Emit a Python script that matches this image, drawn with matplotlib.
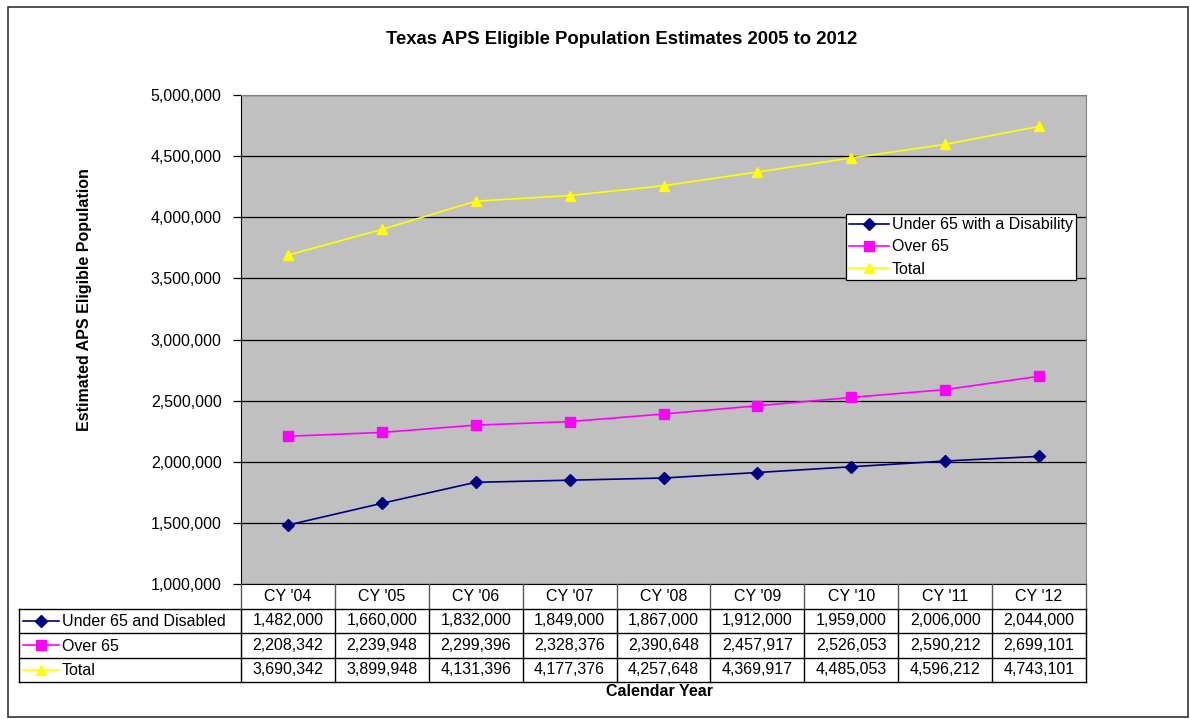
import matplotlib
matplotlib.use("Agg")
import matplotlib.pyplot as plt
from matplotlib.patches import Rectangle
from matplotlib.ticker import FuncFormatter

plt.rcParams['font.family'] = ['Liberation Sans', 'DejaVu Sans']

years = ["CY '04", "CY '05", "CY '06", "CY '07", "CY '08", "CY '09", "CY '10", "CY '11", "CY '12"]
under65 = [1482000, 1660000, 1832000, 1849000, 1867000, 1912000, 1959000, 2006000, 2044000]
over65 = [2208342, 2239948, 2299396, 2328376, 2390648, 2457917, 2526053, 2590212, 2699101]
total = [3690342, 3899948, 4131396, 4177376, 4257648, 4369917, 4485053, 4596212, 4743101]

legend_names = ["Under 65 with a Disability", "Over 65", "Total"]
table_names = ["Under 65 and Disabled", "Over 65", "Total"]
colors = ["#000080", "#FF00FF", "#FFFF00"]
markers = ["D", "s", "^"]
msizes = [6, 7, 7]
series = [under65, over65, total]

FS = 11.5
W, H = 1190, 719
fig = plt.figure(figsize=(W / 100, H / 100), dpi=100)

# outer border
fig.patches.append(Rectangle((7.5 / W, 1 - 717 / H), 1180 / W, 710.5 / H,
                             transform=fig.transFigure, fill=False,
                             edgecolor="#333333", linewidth=1.2))

px_l, px_r, px_t, px_b = 241, 1086, 95, 584
ax = fig.add_axes([px_l / W, 1 - px_b / H, (px_r - px_l) / W, (px_b - px_t) / H])
ax.set_facecolor("#C0C0C0")
x = list(range(len(years)))
for name, vals, c, m, ms in zip(legend_names, series, colors, markers, msizes):
    ax.plot(x, vals, color=c, marker=m, markersize=ms, linewidth=1.2, label=name)

ax.set_xlim(-0.5, len(years) - 0.5)
ax.set_ylim(1000000, 5000000)
ax.set_yticks(range(1000000, 5000001, 500000))
ax.yaxis.set_major_formatter(FuncFormatter(lambda v, p: f"{int(v):,}"))
ax.set_xticks([])
ax.grid(axis="y", color="black", linewidth=0.9)
ax.set_axisbelow(True)
ax.tick_params(axis="y", direction="out", length=6, width=0.9, labelsize=FS, pad=8)
for s in ["top", "right"]:
    ax.spines[s].set_color("#808080")
ax.spines["left"].set_color("black")
ax.spines["bottom"].set_color("black")

leg = ax.legend(loc="upper left", bbox_to_anchor=((846 - px_l) / (px_r - px_l), 1 - (214 - px_t) / (px_b - px_t)),
                fontsize=FS, frameon=True, fancybox=False, edgecolor="black",
                borderpad=0.2, labelspacing=0.45, handlelength=2.5, handletextpad=0.15,
                borderaxespad=0)
leg.get_frame().set_linewidth(0.9)
leg.get_frame().set_alpha(1)

# data table below the axes
col_w = (px_r - px_l) / len(years)
tl = 19
tax = fig.add_axes([tl / W, 1 - 682 / H, (px_r - tl) / W, (682 - px_b) / H])
left_x = -0.5 - (px_l - tl) / col_w
tax.set_xlim(left_x, len(years) - 0.5)
tax.set_ylim(0, 4)
tax.axis("off")

# grid lines of table
for yy in [0, 1, 2, 3]:
    tax.plot([left_x, len(years) - 0.5], [yy, yy], color="black", lw=1.0, clip_on=False)
tax.plot([left_x, left_x], [0, 3], color="black", lw=1.0, clip_on=False)
for i in range(len(years) + 1):
    xb = i - 0.5
    tax.plot([xb, xb], [3, 4], color="#555555", lw=1.0, clip_on=False)
    tax.plot([xb, xb], [0, 3], color="black", lw=1.0, clip_on=False)

for i, yr in enumerate(years):
    tax.text(i, 3.5, yr, ha="center", va="center", fontsize=FS)

px = 1 / col_w
for r, (name, vals, c, m, ms) in enumerate(zip(table_names, series, colors, markers, msizes)):
    yc = 2.5 - r
    x0 = left_x + 4 * px
    tax.plot([x0, x0 + 36 * px], [yc, yc], color=c, lw=1.2, clip_on=False)
    tax.plot([x0 + 18 * px], [yc], color=c, marker=m, markersize=ms, clip_on=False)
    tax.text(x0 + 39 * px, yc - 0.05, name, ha="left", va="center", fontsize=FS)
    for i, v in enumerate(vals):
        tax.text(i, yc, f"{v:,}", ha="center", va="center", fontsize=FS)

fig.text(622 / W, 1 - 40 / H, "Texas APS Eligible Population Estimates 2005 to 2012",
         ha="center", va="center", fontsize=13.3, fontweight="bold")
fig.text(85 / W, 1 - 300 / H, "Estimated APS Eligible Population", rotation=90,
         ha="center", va="center", fontsize=11.5, fontweight="bold")
fig.text(660 / W, 1 - 692 / H, "Calendar Year", ha="center", va="center",
         fontsize=11.5, fontweight="bold")

fig.savefig("out.png", dpi=100)
